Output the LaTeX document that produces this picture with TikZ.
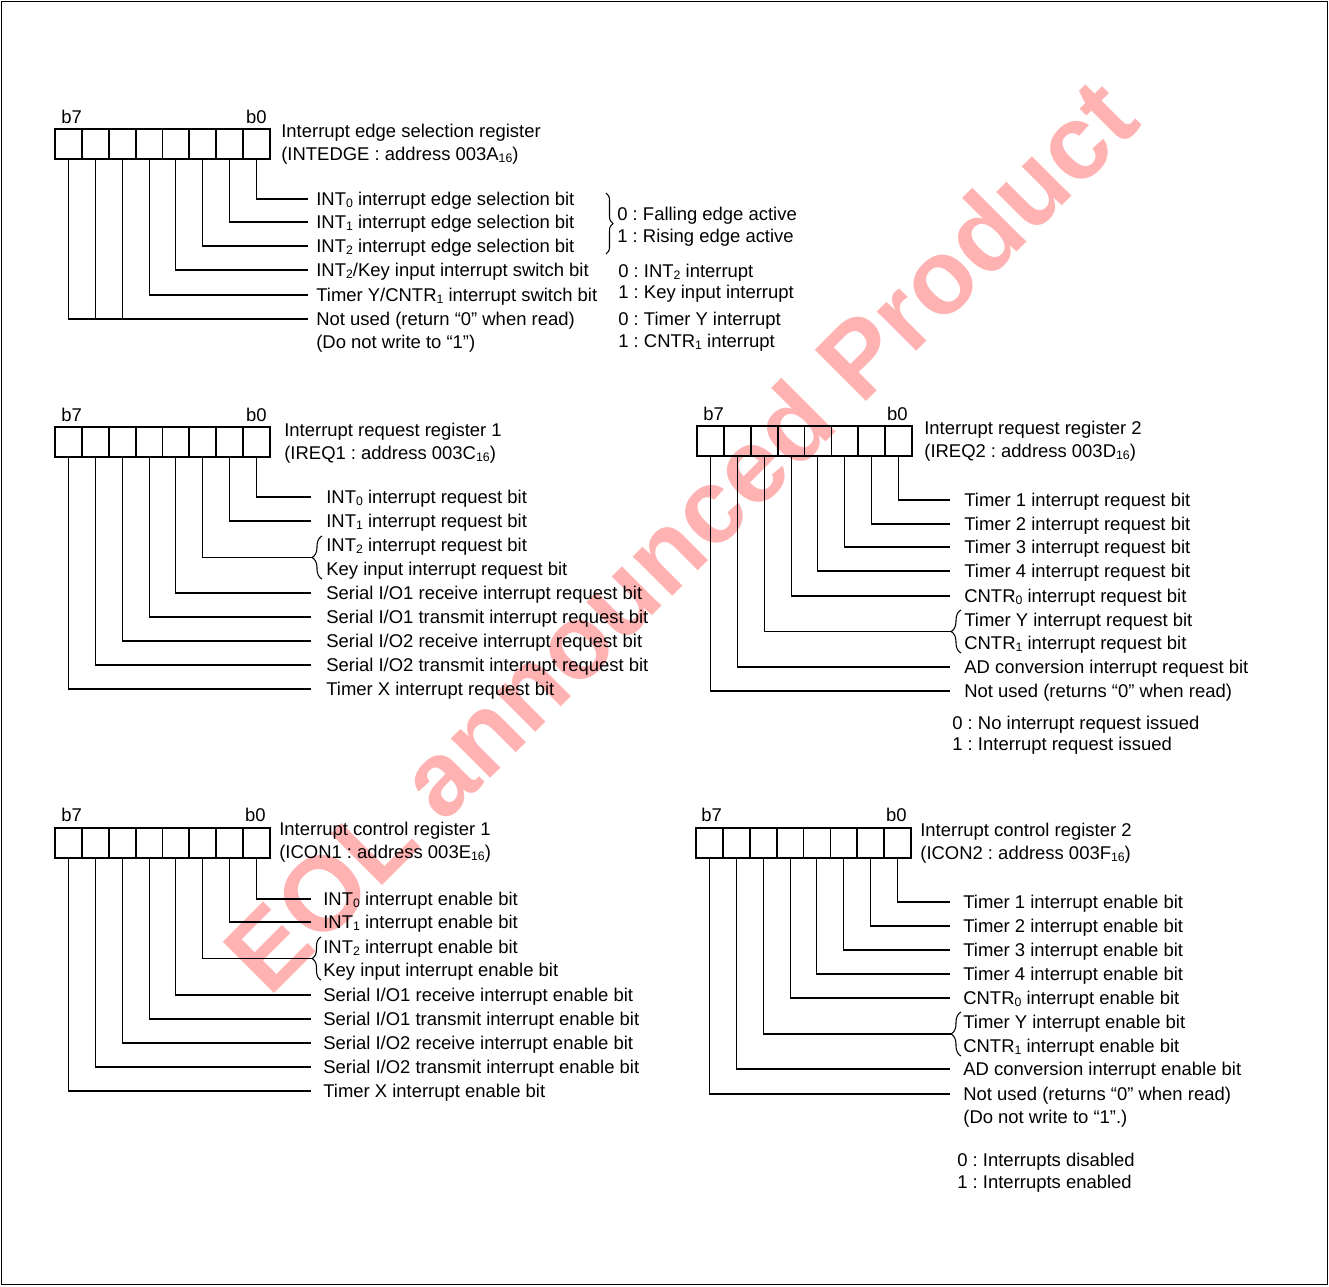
\documentclass[tikz,border=0pt]{standalone}
\usepackage{fontspec}
\setmainfont{Liberation Sans}
\usetikzlibrary{decorations.pathreplacing}
\definecolor{wmpink}{RGB}{255,178,178}
\newcommand{\sbs}[1]{\raisebox{-0.15ex}{\fontsize{7pt}{7pt}\selectfont#1}}
\frenchspacing
\begin{document}
\begin{tikzpicture}[x=0.02cm,y=-0.02cm,
  font=\fontsize{10.5pt}{12.6pt}\selectfont,
  cell/.style={draw,line width=1pt,minimum width=0.5375cm,minimum height=0.6cm,inner sep=0pt,outer sep=0pt},
  lbl/.style={anchor=west,inner sep=0pt,text height=7.5pt,text depth=0pt},
  lead/.style={line width=0.6pt},
  brc/.style={decorate,decoration={brace,amplitude=#1},line width=0.6pt},
  brc/.default=0.2cm]
\useasboundingbox (0,0) rectangle (1329,1286);
\draw[line width=1.1pt] (1.5,1.5) rectangle (1327.5,1284.5);

\node[rotate=45,text=wmpink,font=\fontsize{60pt}{60pt}\bfseries\selectfont] (mark) at (680,535) {EOL announced Product};

% INTEDGE
\foreach \i in {0,...,7}
  \node[cell] (a\i) at ({55+26.875*(7.5-\i)},144) {};
\node[lbl] (ab7) at (61,117) {b7};
\node[lbl,anchor=east] (ab0) at (267,117) {b0};
\node[lbl] (atitle) at (281,131) {Interrupt edge selection register};
\node[lbl] (aaddr) at (281,154) {(INTEDGE : address 003A\sbs{16})};

\node[lbl] (la0) at (316,199) {INT\sbs{0} interrupt edge selection bit};
\node[lbl] (la1) at (316,222) {INT\sbs{1} interrupt edge selection bit};
\node[lbl] (la2) at (316,246) {INT\sbs{2} interrupt edge selection bit};
\node[lbl] (la3) at (316,270) {INT\sbs{2}/Key input interrupt switch bit};
\node[lbl] (la4) at (316,295) {Timer Y/CNTR\sbs{1} interrupt switch bit};
\node[lbl] (la5) at (316,319) {Not used (return “0” when read)};
\node[lbl] (la6) at (316,342) {(Do not write to “1”)};
\foreach \i/\j in {0/0,1/1,2/2,3/3,4/4,5/5,6/5,7/5}
  \draw[lead,shorten >=0.16cm] (a\i.south) |- (la\j.west);

\draw[brc=0.14cm] (606,193) -- (606,254);
\node[lbl] (va0) at (617,214) {0 : Falling edge active};
\node[lbl] (va1) at (617,236) {1 : Rising edge active};
\node[lbl] (vb0) at (618,271) {0 : INT\sbs{2} interrupt};
\node[lbl] (vb1) at (618,292) {1 : Key input interrupt};
\node[lbl] (vc0) at (618,319) {0 : Timer Y interrupt};
\node[lbl] (vc1) at (618,341) {1 : CNTR\sbs{1} interrupt};

% IREQ1
\foreach \i in {0,...,7}
  \node[cell] (b\i) at ({55+26.875*(7.5-\i)},442) {};
\node[lbl] (bb7) at (61,415) {b7};
\node[lbl,anchor=east] (bb0) at (267,415) {b0};
\node[lbl] (btitle) at (284,430) {Interrupt request register 1};
\node[lbl] (baddr) at (284,453) {(IREQ1 : address 003C\sbs{16})};

\node[lbl] (lb0) at (326,497) {INT\sbs{0} interrupt request bit};
\node[lbl] (lb1) at (326,521) {INT\sbs{1} interrupt request bit};
\node[lbl] (lb2) at (326,545) {INT\sbs{2} interrupt request bit};
\node[lbl] (lb2k) at (326,569) {Key input interrupt request bit};
\node[lbl] (lb3) at (326,593) {Serial I/O1 receive interrupt request bit};
\node[lbl] (lb4) at (326,617) {Serial I/O1 transmit interrupt request bit};
\node[lbl] (lb5) at (326,641) {Serial I/O2 receive interrupt request bit};
\node[lbl] (lb6) at (326,665) {Serial I/O2 transmit interrupt request bit};
\node[lbl] (lb7) at (326,689) {Timer X interrupt request bit};
\foreach \i in {0,1,3,4,5,6,7}
  \draw[lead,shorten >=0.3cm] (b\i.south) |- (lb\i.west);
\draw[brc] (322,579) -- (322,536);
\coordinate (bk) at (312,557.5);
\draw[lead] (b2.south) |- (bk);

% IREQ2
\foreach \i in {0,...,7}
  \node[cell] (c\i) at ({697+26.875*(7.5-\i)},441) {};
\node[lbl] (cb7) at (703,414) {b7};
\node[lbl,anchor=east] (cb0) at (908,414) {b0};
\node[lbl] (ctitle) at (924,428) {Interrupt request register 2};
\node[lbl] (caddr) at (924,451) {(IREQ2 : address 003D\sbs{16})};

\node[lbl] (lc0) at (964,500) {Timer 1 interrupt request bit};
\node[lbl] (lc1) at (964,524) {Timer 2 interrupt request bit};
\node[lbl] (lc2) at (964,547) {Timer 3 interrupt request bit};
\node[lbl] (lc3) at (964,571) {Timer 4 interrupt request bit};
\node[lbl] (lc4) at (964,596) {CNTR\sbs{0} interrupt request bit};
\node[lbl] (lc5) at (964,620) {Timer Y interrupt request bit};
\node[lbl] (lc5k) at (964,643) {CNTR\sbs{1} interrupt request bit};
\node[lbl] (lc6) at (964,667) {AD conversion interrupt request bit};
\node[lbl] (lc7) at (964,691) {Not used (returns “0” when read)};
\foreach \i in {0,1,2,3,4,6,7}
  \draw[lead,shorten >=0.28cm] (c\i.south) |- (lc\i.west);
\draw[brc] (961,653) -- (961,610);
\coordinate (ck) at (951,631.5);
\draw[lead] (c5.south) |- (ck);

\node[lbl] (vd0) at (952,723) {0 : No interrupt request issued};
\node[lbl] (vd1) at (952,744) {1 : Interrupt request issued};

% ICON1
\foreach \i in {0,...,7}
  \node[cell] (d\i) at ({55+26.875*(7.5-\i)},843) {};
\node[lbl] (db7) at (61,815) {b7};
\node[lbl,anchor=east] (db0) at (266,815) {b0};
\node[lbl] (dtitle) at (279,829) {Interrupt control register 1};
\node[lbl] (daddr) at (279,852) {(ICON1 : address 003E\sbs{16})};

\node[lbl] (ld0) at (323,899) {INT\sbs{0} interrupt enable bit};
\node[lbl] (ld1) at (323,922) {INT\sbs{1} interrupt enable bit};
\node[lbl] (ld2) at (323,947) {INT\sbs{2} interrupt enable bit};
\node[lbl] (ld2k) at (323,970) {Key input interrupt enable bit};
\node[lbl] (ld3) at (323,995) {Serial I/O1 receive interrupt enable bit};
\node[lbl] (ld4) at (323,1019) {Serial I/O1 transmit interrupt enable bit};
\node[lbl] (ld5) at (323,1043) {Serial I/O2 receive interrupt enable bit};
\node[lbl] (ld6) at (323,1067) {Serial I/O2 transmit interrupt enable bit};
\node[lbl] (ld7) at (323,1091) {Timer X interrupt enable bit};
\foreach \i in {0,1,3,4,5,6,7}
  \draw[lead,shorten >=0.24cm] (d\i.south) |- (ld\i.west);
\draw[brc=0.18cm] (321,980) -- (321,937);
\coordinate (dk) at (312,958.5);
\draw[lead] (d2.south) |- (dk);

% ICON2
\foreach \i in {0,...,7}
  \node[cell] (e\i) at ({696+26.875*(7.5-\i)},843) {};
\node[lbl] (eb7) at (701,815) {b7};
\node[lbl,anchor=east] (eb0) at (907,815) {b0};
\node[lbl] (etitle) at (920,830) {Interrupt control register 2};
\node[lbl] (eaddr) at (920,853) {(ICON2 : address 003F\sbs{16})};

\node[lbl] (le0) at (963,902) {Timer 1 interrupt enable bit};
\node[lbl] (le1) at (963,926) {Timer 2 interrupt enable bit};
\node[lbl] (le2) at (963,950) {Timer 3 interrupt enable bit};
\node[lbl] (le3) at (963,974) {Timer 4 interrupt enable bit};
\node[lbl] (le4) at (963,998) {CNTR\sbs{0} interrupt enable bit};
\node[lbl] (le5) at (963,1022) {Timer Y interrupt enable bit};
\node[lbl] (le5k) at (963,1046) {CNTR\sbs{1} interrupt enable bit};
\node[lbl] (le6) at (963,1069) {AD conversion interrupt enable bit};
\node[lbl] (le7) at (963,1094) {Not used (returns “0” when read)};
\node[lbl] (le8) at (963,1117) {(Do not write to “1”.)};
\foreach \i in {0,1,2,3,4,6,7}
  \draw[lead,shorten >=0.26cm] (e\i.south) |- (le\i.west);
\draw[brc] (961,1056) -- (961,1012);
\coordinate (ek) at (951,1034);
\draw[lead] (e5.south) |- (ek);

\node[lbl] (ve0) at (957,1160) {0 : Interrupts disabled};
\node[lbl] (ve1) at (957,1182) {1 : Interrupts enabled};
\end{tikzpicture}
\end{document}
